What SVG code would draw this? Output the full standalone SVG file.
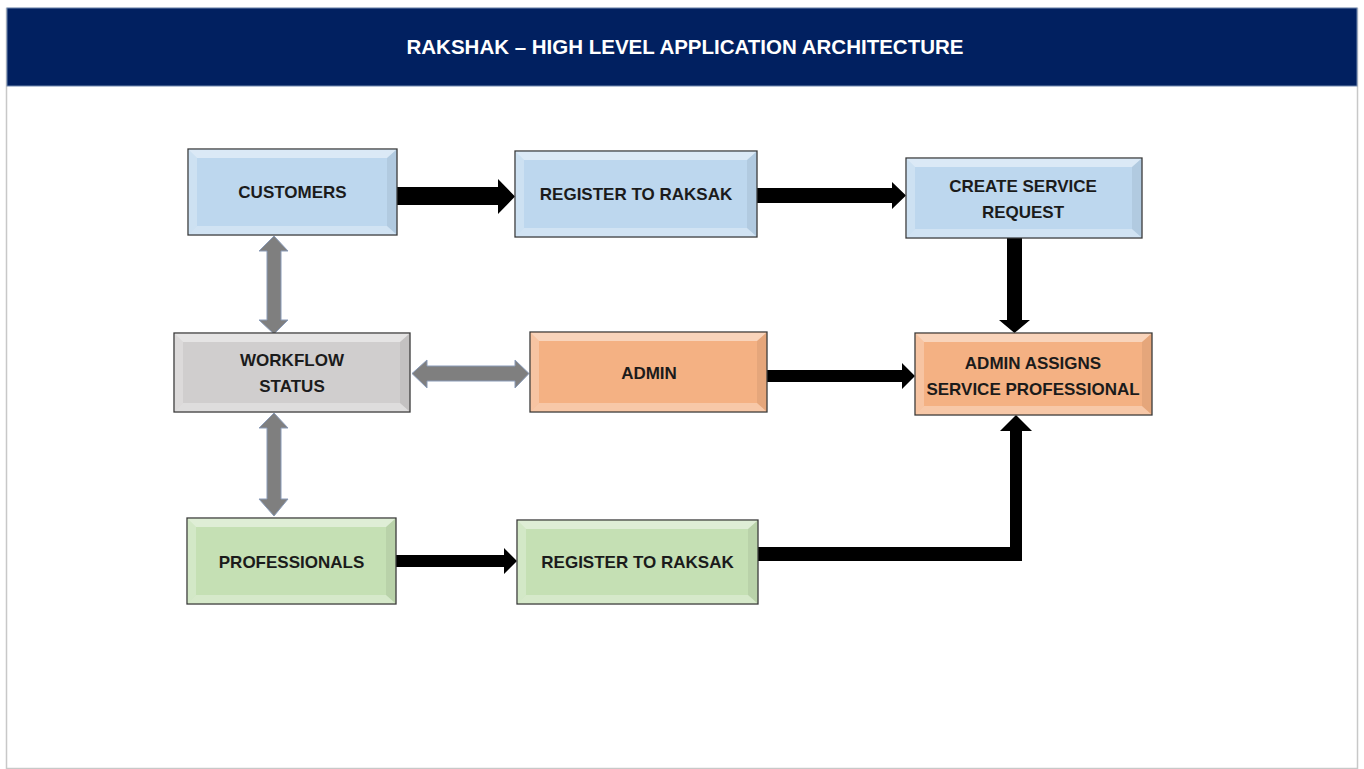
<svg xmlns="http://www.w3.org/2000/svg" width="1364" height="769" viewBox="0 0 1364 769">
<style>
.box{stroke:#3a3a3a;stroke-width:1.3}
.lt{fill:#ffffff;opacity:.45}
.lb{fill:#ffffff;opacity:.3}
.ll{fill:#ffffff;opacity:.25}
.dr{fill:#000000;opacity:.06}
.lbl{font-family:"Liberation Sans",Arial,sans-serif;font-weight:bold;font-size:17px;fill:#1b1b1b;text-anchor:middle}
.blk{fill:#000000}
.gry{fill:#7f7f7f;stroke:#8a9bb8;stroke-width:1}
</style>
<rect x="0" y="0" width="1364" height="769" fill="#ffffff"/>
<rect x="6.5" y="8.5" width="1351" height="760" fill="#ffffff" stroke="#c8c8c8" stroke-width="1.5"/>
<g id="header">
<rect x="7" y="8" width="1350" height="78" fill="#012060" stroke="#6f86ad" stroke-width="1"/>
<text x="685" y="54" font-family="'Liberation Sans',Arial,sans-serif" font-weight="bold" font-size="20.5" fill="#ffffff" text-anchor="middle">RAKSHAK – HIGH LEVEL APPLICATION ARCHITECTURE</text>
</g>
<g id="connectors">
<polygon class="blk" points="397,187 498,187 498,179 515,196.5 498,214 498,205 397,205"/>
<polygon class="blk" points="757,188 892,188 892,182 906,195.5 892,209 892,203 757,203"/>
<polygon class="blk" points="1007,237 1022,237 1022,320 1030,320 1014.5,333 999,320 1007,320"/>
<polygon class="blk" points="767,370 902,370 902,363 915,376 902,389 902,382 767,382"/>
<polygon class="blk" points="396,555 504,555 504,548 517,561 504,574 504,567 396,567"/>
<polygon class="blk" points="758,547 1010,547 1010,431 1000,431 1016,415 1032,431 1022,431 1022,561 758,561"/>
<polygon class="gry" points="274,236 288,251 281,251 281,320 288,320 274,334 259,320 267,320 267,251 259,251"/>
<polygon class="gry" points="412,373.5 427,360 427,366 515,366 515,360 529,373.5 515,388 515,381 427,381 427,388"/>
<polygon class="gry" points="274,413 288,428 281,428 281,499 288,499 274,516 259,499 267,499 267,428 259,428"/>
</g>
<g id="customers">
<rect class="box" x="188" y="149" width="209" height="86" fill="#bdd7ee"/>
<polygon class="lt" points="188.7,149.7 396.3,149.7 387,158 197,158"/>
<polygon class="lb" points="188.7,234.3 396.3,234.3 387,226 197,226"/>
<polygon class="ll" points="188.7,149.7 197,158 197,226 188.7,234.3"/>
<polygon class="dr" points="396.3,149.7 387,158 387,226 396.3,234.3"/>
<text class="lbl" x="292.5" y="198">CUSTOMERS</text>
</g>
<g id="register-customer">
<rect class="box" x="515" y="151" width="242" height="86" fill="#bdd7ee"/>
<polygon class="lt" points="515.7,151.7 756.3,151.7 747,160 524,160"/>
<polygon class="lb" points="515.7,236.3 756.3,236.3 747,228 524,228"/>
<polygon class="ll" points="515.7,151.7 524,160 524,228 515.7,236.3"/>
<polygon class="dr" points="756.3,151.7 747,160 747,228 756.3,236.3"/>
<text class="lbl" x="636" y="200">REGISTER TO RAKSAK</text>
</g>
<g id="create-request">
<rect class="box" x="906" y="158" width="236" height="80" fill="#bdd7ee"/>
<polygon class="lt" points="906.7,158.7 1141.3,158.7 1132,167 915,167"/>
<polygon class="lb" points="906.7,237.3 1141.3,237.3 1132,229 915,229"/>
<polygon class="ll" points="906.7,158.7 915,167 915,229 906.7,237.3"/>
<polygon class="dr" points="1141.3,158.7 1132,167 1132,229 1141.3,237.3"/>
<text class="lbl" x="1023" y="192">CREATE SERVICE</text>
<text class="lbl" x="1023" y="218">REQUEST</text>
</g>
<g id="workflow">
<rect class="box" x="174" y="333" width="236" height="79" fill="#d0cece"/>
<polygon class="lt" points="174.7,333.7 409.3,333.7 400,342 183,342"/>
<polygon class="lb" points="174.7,411.3 409.3,411.3 400,403 183,403"/>
<polygon class="ll" points="174.7,333.7 183,342 183,403 174.7,411.3"/>
<polygon class="dr" points="409.3,333.7 400,342 400,403 409.3,411.3"/>
<text class="lbl" x="292" y="366">WORKFLOW</text>
<text class="lbl" x="292" y="392">STATUS</text>
</g>
<g id="admin">
<rect class="box" x="530" y="332" width="237" height="80" fill="#f4b183"/>
<polygon class="lt" points="530.7,332.7 766.3,332.7 757,341 539,341"/>
<polygon class="lb" points="530.7,411.3 766.3,411.3 757,403 539,403"/>
<polygon class="ll" points="530.7,332.7 539,341 539,403 530.7,411.3"/>
<polygon class="dr" points="766.3,332.7 757,341 757,403 766.3,411.3"/>
<text class="lbl" x="649" y="379">ADMIN</text>
</g>
<g id="admin-assigns">
<rect class="box" x="915" y="333" width="237" height="82" fill="#f4b183"/>
<polygon class="lt" points="915.7,333.7 1151.3,333.7 1142,342 924,342"/>
<polygon class="lb" points="915.7,414.3 1151.3,414.3 1142,406 924,406"/>
<polygon class="ll" points="915.7,333.7 924,342 924,406 915.7,414.3"/>
<polygon class="dr" points="1151.3,333.7 1142,342 1142,406 1151.3,414.3"/>
<text class="lbl" x="1033" y="369">ADMIN ASSIGNS</text>
<text class="lbl" x="1033" y="395">SERVICE PROFESSIONAL</text>
</g>
<g id="professionals">
<rect class="box" x="187" y="518" width="209" height="86" fill="#c5e0b4"/>
<polygon class="lt" points="187.7,518.7 395.3,518.7 386,527 196,527"/>
<polygon class="lb" points="187.7,603.3 395.3,603.3 386,595 196,595"/>
<polygon class="ll" points="187.7,518.7 196,527 196,595 187.7,603.3"/>
<polygon class="dr" points="395.3,518.7 386,527 386,595 395.3,603.3"/>
<text class="lbl" x="291.5" y="568">PROFESSIONALS</text>
</g>
<g id="register-professional">
<rect class="box" x="517" y="520" width="241" height="84" fill="#c5e0b4"/>
<polygon class="lt" points="517.7,520.7 757.3,520.7 748,529 526,529"/>
<polygon class="lb" points="517.7,603.3 757.3,603.3 748,595 526,595"/>
<polygon class="ll" points="517.7,520.7 526,529 526,595 517.7,603.3"/>
<polygon class="dr" points="757.3,520.7 748,529 748,595 757.3,603.3"/>
<text class="lbl" x="637.5" y="568">REGISTER TO RAKSAK</text>
</g>
</svg>
